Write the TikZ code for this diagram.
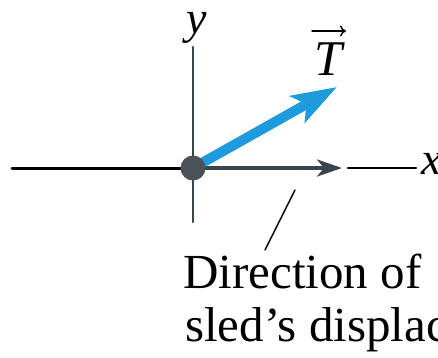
\documentclass[tikz,border=0pt]{standalone}
\usepackage{fontspec}
\setmainfont{Liberation Serif}
\usetikzlibrary{arrows.meta,positioning}
\definecolor{SledBlue}{HTML}{1E9BDD}
\definecolor{AxisGray}{HTML}{3A444D}
\definecolor{DotGray}{HTML}{4A5258}

\begin{document}
\begin{tikzpicture}[x=1pt,y=-1pt,line cap=round,line join=round,
  axislabel/.style={font=\fontsize{46}{50}\selectfont\itshape,inner sep=0pt},
  caption/.style={font=\fontsize{49}{53}\selectfont,inner sep=0pt,anchor=base west}]
  \useasboundingbox (0,0) rectangle (438,357);
  \clip (0,0) rectangle (438,357);
  \coordinate (O) at (193,168);
  \coordinate (xleft) at (12,168);
  \coordinate (xtip) at (342,168);
  \coordinate (xa) at (348,168);
  \coordinate (xb) at (416,168);
  \coordinate (ytop) at (193,47);
  \coordinate (ybot) at (193,222);
  \coordinate (Ttip) at (337,87);
  \coordinate (vecl) at (312,31);
  \coordinate (vecr) at (346,31);
  \coordinate (leadfoot) at (265,250);
  \coordinate (leadtop) at (295,190);
  % axes
  \draw[line width=3pt] (xleft)--(O);
  \draw[AxisGray,line width=2.4pt] (ytop)--(ybot);
  \draw[AxisGray,line width=3.6pt,-{Stealth[length=25pt,width=17pt,inset=7pt]}] (O)--(xtip);
  \draw[line width=2.6pt] (xa)--(xb);
  \node[axislabel,anchor=west] (xlab) at (421,164) {x};
  \node[axislabel] (ylab) at (197,28) {y};
  % tension
  \draw[SledBlue,line width=10pt,line cap=butt,-{Stealth[length=45pt,width=30pt,inset=10pt]}] (O)--(Ttip);
  \node[font=\fontsize{50}{56}\selectfont\itshape,inner sep=0pt,anchor=base] (Tlab) at (328,75) {T};
  \draw[line width=1.4pt,-{To[length=6pt,width=11pt]}] (vecl)--(vecr);
  \node[circle,fill=DotGray,minimum size=25pt,inner sep=0pt] (dot) at (O) {};
  % displacement note
  \draw[line width=1.5pt] (leadfoot)--(leadtop);
  \node[caption] (dir1) at (183,288) {Direction of};
  \node[caption] (dir2) at (185,341) {sled’s displac};
\end{tikzpicture}
\end{document}
